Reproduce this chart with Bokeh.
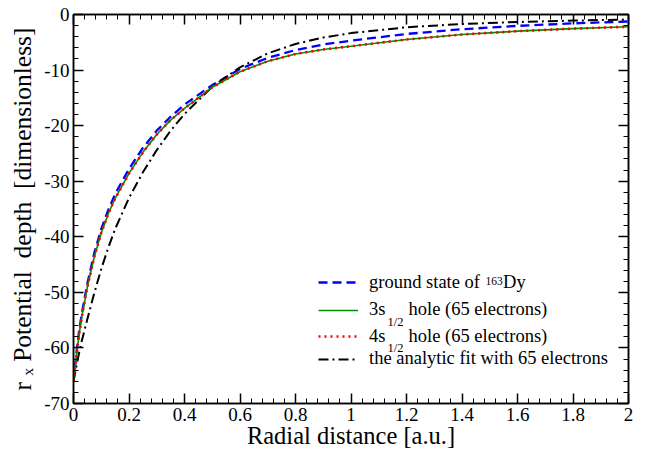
import numpy as np
from bokeh.plotting import figure
from bokeh.models import Range1d, FixedTicker, LinearAxis, Label, Legend, LegendItem
from bokeh.embed import file_html
from bokeh.resources import INLINE
from bokeh.core.properties import value

# ---------------- data ----------------
radius = [0, 0.01, 0.02, 0.03, 0.05, 0.075, 0.1, 0.125, 0.15, 0.2, 0.25, 0.3, 0.35,
          0.4, 0.5, 0.6, 0.7, 0.8, 0.9, 1.0, 1.2, 1.4, 1.6, 1.8, 2.0]
ground_state = [-66, -61.2, -57.0, -53.8, -48.4, -42.9, -38.6, -35.2, -32.3, -27.8, -24.0,
                -20.9, -18.4, -16.2, -12.7, -9.8, -7.8, -6.4, -5.4, -4.7, -3.5, -2.65,
                -2.05, -1.6, -1.25]
hole_3s = [-66, -61.5, -57.6, -54.4, -49.0, -43.6, -39.3, -35.9, -33.1, -28.6, -24.8,
           -21.6, -19.0, -16.9, -13.1, -10.3, -8.4, -7.1, -6.3, -5.7, -4.5, -3.6,
           -3.0, -2.55, -2.2]
hole_4s = [-66, -61.5, -57.6, -54.4, -49.0, -43.6, -39.3, -35.9, -33.1, -28.6, -24.8,
           -21.6, -19.0, -16.9, -13.1, -10.3, -8.4, -7.1, -6.3, -5.7, -4.5, -3.6,
           -3.0, -2.55, -2.2]
analytic_fit = [-66, -63.4, -60.9, -58.7, -54.8, -50.1, -45.8, -42.0, -38.6, -33.0, -28.4,
                -24.4, -20.9, -17.9, -13.0, -9.5, -7.0, -5.3, -4.15, -3.35, -2.3, -1.7,
                -1.35, -1.1, -0.9]

x_ticks = [0, 0.2, 0.4, 0.6, 0.8, 1.0, 1.2, 1.4, 1.6, 1.8, 2.0]
x_tick_labels = ["0", "0.2", "0.4", "0.6", "0.8", "1", "1.2", "1.4", "1.6", "1.8", "2"]
y_ticks = [-70, -60, -50, -40, -30, -20, -10, 0]
y_tick_labels = ["-70", "-60", "-50", "-40", "-30", "-20", "-10", "0"]

x_title = "Radial distance [a.u.]"
y_title = "r \u2093 Potential\u00a0\u00a0depth\u00a0\u00a0[dimensionless]"

legend_texts = ["ground state of\u00a0\u00a0\u00a0\u00a0\u00a0Dy",
                "3s\u00a0\u00a0\u00a0\u00a0\u00a0hole (65 electrons)",
                "4s\u00a0\u00a0\u00a0\u00a0\u00a0hole (65 electrons)",
                "the analytic fit with 65 electrons"]

# ---------------- layout ----------------
W, H = 651, 452
L, R, T, B = 73, 23, 14, 49
XMIN, XMAX, YMIN, YMAX = 0, 2, -70, 0
FW, FH = W - L - R, H - T - B

def dx(px):
    return XMIN + (px - L) / FW * (XMAX - XMIN)

def dy(py):
    return YMAX - (py - T) / FH * (YMAX - YMIN)

SERIF = "Liberation Serif"

p = figure(width=W, height=H, output_backend="svg", toolbar_location=None,
           x_range=Range1d(XMIN, XMAX), y_range=Range1d(YMIN, YMAX),
           x_axis_type=None, y_axis_type=None,
           min_border_left=L, min_border_right=R, min_border_top=T, min_border_bottom=B)
p.outline_line_color = "black"
p.outline_line_width = 1.5
p.background_fill_color = "white"
p.border_fill_color = "white"

x_minor = [round(v, 4) for v in np.arange(0, 2.0001, 0.04)]
y_minor = [float(v) for v in np.arange(-70, 0.1, 2)]

def make_axis(kind, show_labels):
    ticks = x_ticks if kind == "x" else y_ticks
    labels = x_tick_labels if kind == "x" else y_tick_labels
    minor = x_minor if kind == "x" else y_minor
    ax = LinearAxis(ticker=FixedTicker(ticks=ticks, minor_ticks=minor))
    ax.major_tick_in = 10
    ax.major_tick_out = 0
    ax.minor_tick_in = 5
    ax.minor_tick_out = 0
    ax.axis_line_color = "black"
    ax.axis_line_width = 1.5
    ax.major_tick_line_color = "black"
    ax.major_tick_line_width = 1.5
    ax.minor_tick_line_color = "black"
    ax.minor_tick_line_width = 1
    ax.major_label_text_font = SERIF
    ax.major_label_text_color = "black"
    ax.major_label_standoff = 4
    if show_labels:
        ax.major_label_overrides = {t: s for t, s in zip(ticks, labels)}
        ax.major_label_text_font_size = "19px"
    else:
        ax.major_label_overrides = {t: "" for t in ticks}
        ax.major_label_text_font_size = "1px"
        ax.major_label_standoff = 0
    ax.axis_label_text_font = SERIF
    ax.axis_label_text_font_style = "normal"
    ax.axis_label_text_color = "black"
    return ax

xa = make_axis("x", True)
xa.axis_label = x_title
xa.axis_label_text_font_size = "24.5px"
xa.axis_label_standoff = -2
ya = make_axis("y", True)
ya.axis_label = y_title
ya.axis_label_text_font_size = "25.5px"
ya.axis_label_standoff = 4
p.add_layout(xa, "below")
p.add_layout(ya, "left")
p.add_layout(make_axis("x", False), "above")
p.add_layout(make_axis("y", False), "right")

# ---------------- curves ----------------
r_ground = p.line(radius, ground_state, line_color="#0000ff", line_width=2.3, line_dash="9 5")
r_fit = p.line(radius, analytic_fit, line_color="black", line_width=2, line_dash="10 4 2 4")
r_3s = p.line(radius, hole_3s, line_color="#008f00", line_width=1.6)
r_4s = p.line(radius, hole_4s, line_color="#ff0000", line_width=2.6, line_dash="2 4")

# ---------------- legend (one box per row) ----------------
row_centers = [282, 309.7, 336.3, 358.7]
for rend, txt, yc in zip([r_ground, r_3s, r_4s, r_fit], legend_texts, row_centers):
    leg = Legend(items=[LegendItem(label=value(txt), renderers=[rend])],
                 location=(318 - L, (H - B) - yc - 12),
                 padding=0, margin=0, spacing=0,
                 border_line_color=None, background_fill_alpha=0,
                 glyph_width=40, glyph_height=24, label_height=24, label_standoff=11,
                 label_text_font=SERIF, label_text_font_size="18.5px",
                 label_text_color="black")
    p.add_layout(leg)

def lab(px, py, text, size):
    p.add_layout(Label(x=dx(px), y=dy(py), text=text, text_font=SERIF,
                       text_font_size=size, text_color="black", text_align="left",
                       text_baseline="alphabetic"))

lab(485, 280.5, "163", "11.5px")
lab(387, 321, "1/2", "12.5px")
lab(387, 347.5, "1/2", "12.5px")

open("out.html", "w").write(file_html(p, INLINE))
